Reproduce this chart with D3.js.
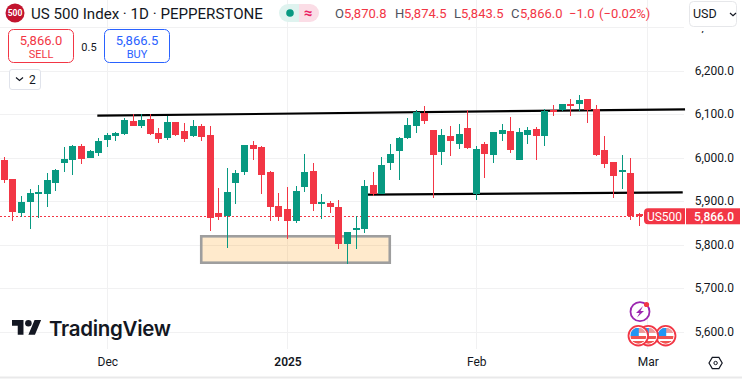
<!DOCTYPE html>
<html>
<head>
<meta charset="utf-8">
<script src="https://cdn.jsdelivr.net/npm/d3@7"></script>
<style>
  html, body { margin: 0; padding: 0; background: #fff; overflow: hidden; }
  svg { display: block; font-family: Roboto, sans-serif; }
</style>
</head>
<body>
<script>
// OHLC, one value per daily candle
const opens = [5995.4,5951.7,5873.5,5898.8,5917.2,5917.2,5942.5,5988.5,5995.4,6027.6,6000,6011.5,6041.3,6050.5,6055.1,6085,6073.5,6089.6,6057.4,6045.9,6082.7,6062,6050.5,6073.5,6052.8,5873.5,5866.6,5942.5,5967.8,6029.8,6025.3,5967.8,5889.6,5882.7,5855.9,5933.3,5970.1,5894.2,5896.5,5887.3,5802.3,5834.4,5836.8,5937.9,5917.2,5988.5,6016.1,6046,6073.5,6103.4,6064.3,6013.8,6050.6,6032.2,6068.9,5917.2,6032.2,6006.9,6055.1,6062,5995.4,6052.8,6066.6,6050.6,6110.3,6110.3,6124.1,6124.1,6135.6,6112.6,6018.4,5990.8,5967.8,5965.5,5870.8];
const highs = [6001.5,5951.7,5912.6,5928.7,5937.9,5965.5,5974.7,6025.3,6029.8,6032.1,6018.4,6045.9,6057.4,6059.7,6091.9,6100.3,6101.1,6100.3,6068.9,6096.5,6082.7,6080.4,6087.3,6078.1,6073.5,5931,5977,5972.4,6029.8,6039,6027.6,5970.1,5919.5,5933.3,5935.6,6009.2,5988.5,5917.2,5901.1,5903.4,5829.8,5866.6,5949.4,5967.8,6002.3,6032.2,6048.3,6091.9,6110.3,6119.5,6064.3,6066.6,6073.5,6078.1,6110.3,6027.6,6036.8,6059.7,6078.1,6094.2,6068.9,6071.2,6071.2,6112.6,6121.8,6124.1,6135.6,6144.8,6135.6,6121.8,6050.6,5990.8,6006.9,6000,5874.5];
const lows = [5943.3,5855.9,5865.1,5836.7,5862,5887.3,5924.1,5967.8,5960.9,5986.2,6000,6004.6,6025.3,6039,6052.8,6073.5,6068.9,6052.8,6034.4,6041.3,6050.5,6036.7,6048.2,6039,5832.1,5857.4,5793.1,5894.2,5960.9,5995.4,5917.2,5855.1,5855.1,5813.8,5850.5,5921.8,5878.1,5859.7,5873.5,5790.8,5756.3,5790.8,5827.6,5912.6,5917.2,5972.4,5949.4,6043.7,6057.4,6078.1,5908,5983.9,6004.6,6020.7,6020.7,5903.4,5954,5988.5,6039.1,6011.5,5995.4,6032.2,5995.4,6027.6,6096.5,6108,6096.5,6108,6080.4,6004.6,5977,5908,5928.7,5857.4,5843.5];
const closes = [5949.4,5875.8,5898.8,5919.5,5921.8,5949.4,5972.4,5997.7,6027.6,5997.7,6016.1,6039,6052.8,6057.4,6087.3,6073.5,6087.3,6055.1,6043.6,6082.7,6052.8,6043.6,6073.5,6048.2,5862,5864.3,5921.8,5965.5,6029.8,6020.7,5960.9,5887.3,5864.3,5855.1,5924.1,5967.8,5894.2,5898.8,5887.3,5802.3,5829.8,5839,5935.6,5917.2,5983.9,6009.2,6046,6075.8,6105.7,6085,6006.9,6052.8,6039.1,6055.1,6023,6020.7,6009.2,6059.7,6064.3,6018.4,6059.7,6064.3,6050.6,6108,6108,6124.1,6121.8,6133.3,6110.3,6006.9,5986.2,5958.6,5972.4,5867,5866];

const priceTicks = [5600, 5700, 5800, 5900, 6000, 6100, 6200, 6300];
const timeTicks = [12, 33, 55, 75];
const timeLabels = ['Dec', '2025', 'Feb', 'Mar'];

// Drawings, in candle index and price
const upperLine = [[10.84, 6097.2], [79.33, 6112]];
const lowerLine = [[42.38, 5915.6], [79.06, 5921]];
const boxX = [22.95, 44.92];
const boxY = [5820, 5759.3];

const lastPrice = 5866;
const upColor = '#089981', downColor = '#f23645', gridColor = '#f1f1f2', textColor = '#131722';

const width = 742, height = 379, paneRight = 684, paneBottom = 349;

const svg = d3.select('body')
  .append('svg')
  .attr('width', width)
  .attr('height', height);

const x = d3.scaleLinear().domain([0, 74]).range([4.3, 639.3]);
const y = d3.scaleLinear().domain([5600, 6200]).range([332, 71]);

// Grid
svg.append('g').selectAll('line')
  .data(priceTicks)
  .join('line')
  .attr('x1', 0).attr('x2', paneRight)
  .attr('y1', d => Math.floor(y(d)) + 0.5)
  .attr('y2', d => Math.floor(y(d)) + 0.5)
  .attr('stroke', gridColor);

svg.append('g').selectAll('line')
  .data(timeTicks)
  .join('line')
  .attr('x1', d => Math.floor(x(d)) + 0.5)
  .attr('x2', d => Math.floor(x(d)) + 0.5)
  .attr('y1', 0).attr('y2', paneBottom)
  .attr('stroke', gridColor);

// Box and the two channel lines sit under the candles
svg.append('rect')
  .attr('x', x(boxX[0]))
  .attr('y', y(boxY[0]))
  .attr('width', x(boxX[1]) - x(boxX[0]))
  .attr('height', y(boxY[1]) - y(boxY[0]))
  .attr('fill', 'rgba(255,152,0,0.2)')
  .attr('stroke', '#9e9e9e')
  .attr('stroke-width', 2.6);

const line = d3.line().x(d => x(d[0])).y(d => y(d[1]));
svg.append('g').selectAll('path')
  .data([upperLine, lowerLine])
  .join('path')
  .attr('d', line)
  .attr('fill', 'none')
  .attr('stroke', '#000')
  .attr('stroke-width', 2.2);

// Last price dotted line
svg.append('line')
  .attr('x1', 0).attr('x2', 644)
  .attr('y1', Math.floor(y(lastPrice)) + 0.5)
  .attr('y2', Math.floor(y(lastPrice)) + 0.5)
  .attr('stroke', downColor)
  .attr('stroke-dasharray', '2 2');

// Candles
const candles = svg.append('g').selectAll('g')
  .data(d3.range(opens.length))
  .join('g')
  .attr('fill', i => closes[i] >= opens[i] ? upColor : downColor);

candles.append('rect')
  .attr('x', i => Math.floor(x(i)))
  .attr('width', 1)
  .attr('y', i => Math.round(y(highs[i])))
  .attr('height', i => Math.max(1, Math.round(y(lows[i])) - Math.round(y(highs[i]))));

candles.append('rect')
  .attr('x', i => Math.floor(x(i)) - 3)
  .attr('width', 7)
  .attr('y', i => Math.round(y(Math.max(opens[i], closes[i]))))
  .attr('height', i => Math.max(2, Math.round(y(Math.min(opens[i], closes[i]))) - Math.round(y(Math.max(opens[i], closes[i])))));

// Price axis
const yAxis = svg.append('g')
  .attr('transform', `translate(${paneRight}, 0)`)
  .call(d3.axisRight(y).tickValues(priceTicks).tickSize(0).tickPadding(10).tickFormat(d3.format(',.1f')));
yAxis.select('.domain').remove();
yAxis.selectAll('text')
  .attr('x', 50)
  .attr('dy', '0.25em')
  .attr('text-anchor', 'end')
  .attr('font-family', 'Roboto, sans-serif')
  .attr('font-size', 12)
  .attr('fill', textColor);

// Time axis
const xAxis = svg.append('g')
  .attr('transform', `translate(0, ${paneBottom})`)
  .call(d3.axisBottom(x).tickValues(timeTicks).tickSize(0).tickPadding(8).tickFormat((d, i) => timeLabels[i]));
xAxis.select('.domain').remove();
xAxis.selectAll('text')
  .attr('font-family', 'Roboto, sans-serif')
  .attr('font-size', 12)
  .attr('font-weight', (d, i) => timeLabels[i] === '2025' ? 600 : 400)
  .attr('fill', textColor);

svg.append('rect').attr('x', 0).attr('y', 376.5).attr('width', width).attr('height', 2).attr('fill', '#e9e9ea');

// Last price tags
const tagY = y(lastPrice) - 8;
svg.append('path')
  .attr('d', `M685,${tagY}H648a4,4 0 0 0 -4,4V${tagY + 12}a4,4 0 0 0 4,4H685Z`)
  .attr('fill', downColor);
svg.append('rect').attr('x', 686).attr('y', tagY).attr('width', 54).attr('height', 16).attr('fill', downColor);
svg.append('text').attr('x', 664.5).attr('y', tagY + 12.3).attr('text-anchor', 'middle')
  .attr('font-size', 12).attr('fill', '#fff').text('US500');
svg.append('text').attr('x', 734).attr('y', tagY + 12.3).attr('text-anchor', 'end')
  .attr('font-size', 12).attr('font-weight', 500).attr('fill', '#fff').text(d3.format(',.1f')(lastPrice));

// Header
svg.append('rect').attr('x', 686).attr('y', 0).attr('width', 56).attr('height', 31).attr('fill', '#fff');
svg.append('circle').attr('cx', 15).attr('cy', 13).attr('r', 9.5).attr('fill', '#c2142e');
svg.append('text').attr('x', 15).attr('y', 16).attr('text-anchor', 'middle')
  .attr('font-size', 8.5).attr('font-weight', 700).attr('fill', '#fff').text('500');
svg.append('text').attr('x', 31).attr('y', 18.5).attr('font-size', 15.1).attr('fill', textColor)
  .text('US 500 Index · 1D · PEPPERSTONE');

svg.append('path').attr('d', 'M299,4H288a9,9 0 0 0 0,18H299Z').attr('fill', '#dff3ef');
svg.append('path').attr('d', 'M299,4H310a9,9 0 0 1 0,18H299Z').attr('fill', '#fbdde6');
svg.append('circle').attr('cx', 290).attr('cy', 13).attr('r', 3.8).attr('fill', upColor);
svg.append('text').attr('x', 308).attr('y', 18).attr('text-anchor', 'middle')
  .attr('font-size', 15).attr('font-weight', 700).attr('fill', '#e91e63').text('≈');

const ohlcLabels = [['O', 335, 9], ['H', 395, 9], ['L', 454, 7], ['C', 511, 9]];
const ohlcValues = ['5,870.8', '5,874.5', '5,843.5', '5,866.0'];
ohlcLabels.forEach((d, i) => {
  svg.append('text').attr('x', d[1]).attr('y', 18).attr('font-size', 13).attr('fill', '#50535e').text(d[0]);
  svg.append('text').attr('x', d[1] + d[2]).attr('y', 18).attr('font-size', 13).attr('fill', downColor).text(ohlcValues[i]);
});
svg.append('text').attr('x', 569).attr('y', 18).attr('font-size', 13).attr('fill', downColor).text('−1.0');
svg.append('text').attr('x', 599).attr('y', 18).attr('font-size', 13).attr('fill', downColor).text('(−0.02%)');

// USD picker
svg.append('rect').attr('x', 689.5).attr('y', 1.5).attr('width', 47).attr('height', 25).attr('rx', 4)
  .attr('fill', '#fff').attr('stroke', '#e6e7ea');
svg.append('text').attr('x', 693).attr('y', 18).attr('font-size', 12.5).attr('fill', textColor).text('USD');
svg.append('path').attr('d', 'M730,13l3,2.6l3,-2.6').attr('fill', 'none').attr('stroke', textColor).attr('stroke-width', 1.2);

// Sell / buy buttons
const buttons = [[8.5, '5,866.0', 'SELL', downColor], [104.5, '5,866.5', 'BUY', '#2962ff']];
buttons.forEach(b => {
  svg.append('rect').attr('x', b[0]).attr('y', 29.5).attr('width', 65).attr('height', 33).attr('rx', 5)
    .attr('fill', '#fff').attr('stroke', b[3]);
  svg.append('text').attr('x', b[0] + 32.5).attr('y', 45).attr('text-anchor', 'middle')
    .attr('font-size', 13).attr('fill', b[3]).text(b[1]);
  svg.append('text').attr('x', b[0] + 32.5).attr('y', 58).attr('text-anchor', 'middle')
    .attr('font-size', 11).attr('fill', b[3]).text(b[2]);
});
svg.append('text').attr('x', 89).attr('y', 50.5).attr('text-anchor', 'middle')
  .attr('font-size', 11).attr('fill', textColor).text('0.5');

// Collapsed indicators button
svg.append('rect').attr('x', 9.5).attr('y', 69.5).attr('width', 31).attr('height', 20).attr('rx', 2.5)
  .attr('fill', '#fff').attr('stroke', '#e0e3eb');
svg.append('path').attr('d', 'M16,77.5l3.5,3l3.5,-3').attr('fill', 'none').attr('stroke', textColor).attr('stroke-width', 1.2);
svg.append('text').attr('x', 29).attr('y', 84).attr('font-size', 12).attr('fill', textColor).text('2');

// TradingView logo
const logo = svg.append('g').attr('transform', 'translate(12, 316.7) scale(0.82)').attr('fill', '#131722');
logo.append('path').attr('d', 'M14 22H7V11H0V4h14v18zM28 22h-8l7.5-18h8L28 22z');
logo.append('circle').attr('cx', 20).attr('cy', 8).attr('r', 4);
svg.append('text').attr('x', 49).attr('y', 336).attr('font-family', 'Inter, sans-serif')
  .attr('font-size', 20.5).attr('font-weight', 600).attr('fill', '#131722').attr('letter-spacing', -0.3).text('TradingView');

// Event markers near Mar
svg.append('circle').attr('cx', 640).attr('cy', 311.7).attr('r', 9.5).attr('fill', '#fff')
  .attr('stroke', '#9c27b0').attr('stroke-width', 1.8);
svg.append('path').attr('d', 'M643,306l-7,7h3.5l-2.5,4.5l7,-6.5h-3.5z').attr('fill', '#9c27b0');
svg.append('circle').attr('cx', 646.5).attr('cy', 304.5).attr('r', 2.6).attr('fill', downColor);

const flagCenters = [665.7, 648.3, 638.3];
const defs = svg.append('defs');
flagCenters.forEach((cx, i) => {
  defs.append('clipPath').attr('id', `flag${i}`)
    .append('circle').attr('cx', cx).attr('cy', 335.7).attr('r', 8);
  const f = svg.append('g');
  f.append('circle').attr('cx', cx).attr('cy', 335.7).attr('r', 9.8).attr('fill', '#fff')
    .attr('stroke', downColor).attr('stroke-width', 1.8);
  const inner = f.append('g').attr('clip-path', `url(#flag${i})`);
  inner.append('rect').attr('x', cx - 8).attr('y', 328).attr('width', 16).attr('height', 5).attr('fill', '#ef9a9a');
  inner.append('rect').attr('x', cx - 8).attr('y', 336).attr('width', 16).attr('height', 3).attr('fill', '#ef5350');
  inner.append('rect').attr('x', cx - 8).attr('y', 341).attr('width', 16).attr('height', 3).attr('fill', '#ef5350');
  inner.append('rect').attr('x', cx - 8).attr('y', 328).attr('width', 8.5).attr('height', 8).attr('fill', '#2196f3');
});

// Settings hexagon
svg.append('path').attr('d', 'M709,363l3.3,-5.6h6.6l3.3,5.6l-3.3,5.6h-6.6z').attr('fill', 'none').attr('stroke', textColor).attr('stroke-width', 1.2);
svg.append('circle').attr('cx', 715.6).attr('cy', 363).attr('r', 1.7).attr('fill', 'none').attr('stroke', textColor);
</script>
</body>
</html>
